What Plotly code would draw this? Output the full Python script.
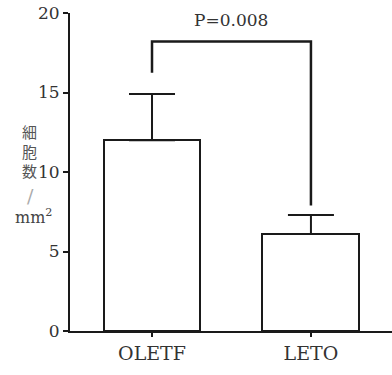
import plotly.graph_objects as go

categories = ["OLETF", "LETO"]
means = [12.0, 6.1]
sd_upper = [2.9, 1.2]
bracket_x = [0, 0, 1, 1]
bracket_y = [16.25, 18.2, 18.2, 7.9]
p_label = "P=0.008"
y_ticks = [0, 5, 10, 15, 20]

serif = "DejaVu Serif"

L, T, W, H = 70, 13, 322, 318  # plot area in pixels


def px(x, y):
    return (x - L) / W, (T + H - y) / H


fig = go.Figure()
fig.add_trace(go.Bar(
    x=[0, 1], y=means, width=0.61,
    marker=dict(color="white", line=dict(color="#1a1a1a", width=2)),
    error_y=dict(type="data", symmetric=False, array=sd_upper, arrayminus=[0, 0],
                 color="#1a1a1a", thickness=2, width=23),
    showlegend=False, hoverinfo="skip",
))
fig.add_trace(go.Scatter(
    x=bracket_x, y=bracket_y, mode="lines",
    line=dict(color="#1a1a1a", width=2.5),
    showlegend=False, hoverinfo="skip", cliponaxis=False,
))

fig.add_annotation(x=0.5, y=19.55, xref="x", yref="y", text=p_label, showarrow=False,
                   font=dict(family=serif, size=17, color="#333"), yanchor="middle")

# y-axis title (vertical Japanese)
ax, ay = px(29, 151)
fig.add_annotation(x=ax, y=ay, xref="paper", yref="paper", text="細<br>胞<br>数",
                   showarrow=False, xanchor="center", yanchor="middle",
                   font=dict(family="Noto Sans CJK JP", size=15, color="#555"))
ax, ay = px(30, 196)
fig.add_annotation(x=ax, y=ay, xref="paper", yref="paper", text="/",
                   showarrow=False, xanchor="center", yanchor="middle",
                   font=dict(family=serif, size=19, color="#aaa"))
ax, ay = px(33, 216)
fig.add_annotation(x=ax, y=ay, xref="paper", yref="paper", text="mm<sup>2</sup>",
                   showarrow=False, xanchor="center", yanchor="middle",
                   font=dict(family=serif, size=16, color="#444"))

fig.update_layout(
    width=392, height=375,
    margin=dict(l=L, r=0, t=T, b=375 - T - H),
    paper_bgcolor="white", plot_bgcolor="white",
    bargap=0,
    xaxis=dict(range=[-0.516, 1.51], tickvals=[0, 1], ticktext=categories,
               showline=True, linecolor="#1a1a1a", linewidth=2,
               ticks="outside", ticklen=4, tickwidth=2, tickcolor="#1a1a1a",
               tickfont=dict(family=serif, size=19, color="#333"),
               showgrid=False, zeroline=False, fixedrange=True),
    yaxis=dict(range=[0, 20], tickvals=y_ticks,
               showline=True, linecolor="#1a1a1a", linewidth=2,
               ticks="outside", ticklen=5, tickwidth=2, tickcolor="#1a1a1a",
               tickfont=dict(family=serif, size=17, color="#333"),
               showgrid=False, zeroline=False, fixedrange=True),
)

fig.write_html("out.html")
